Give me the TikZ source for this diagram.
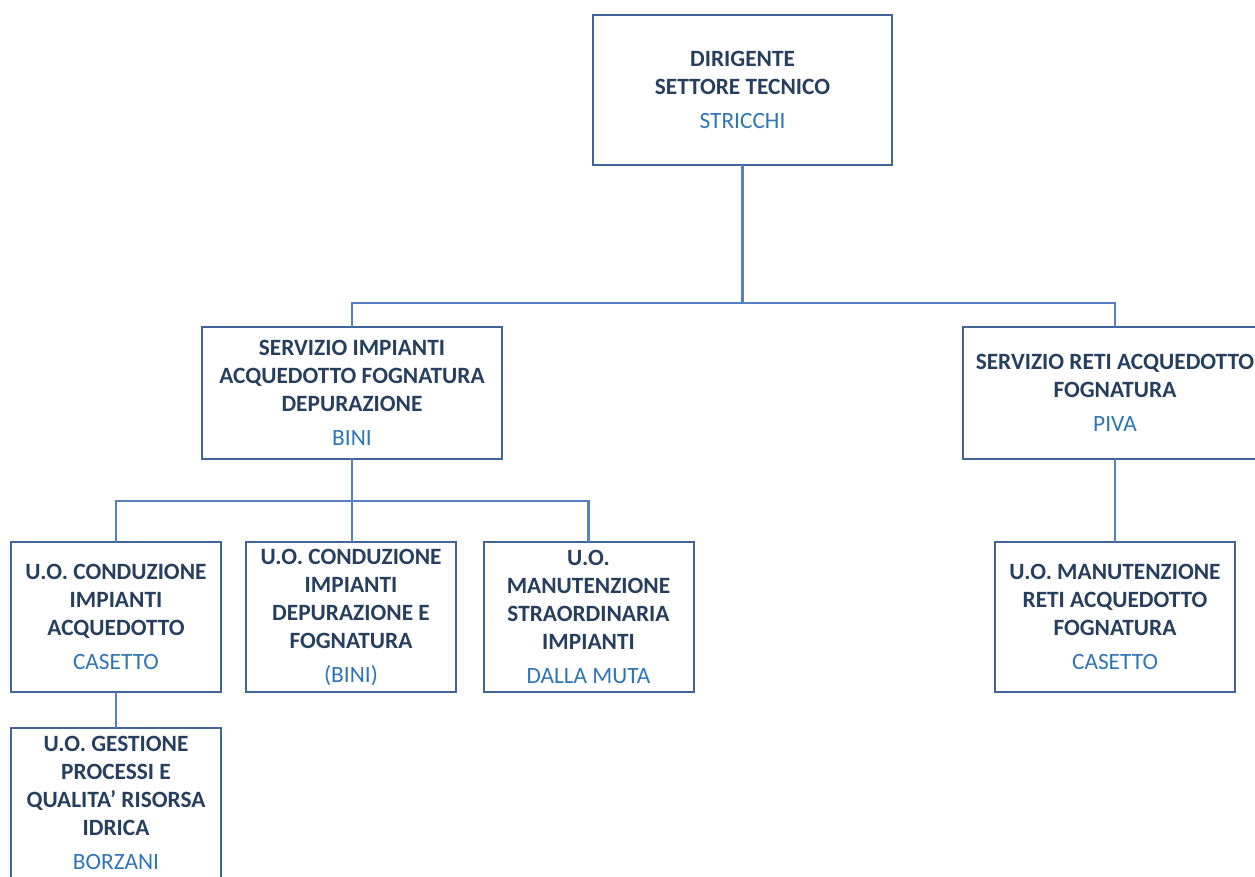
\documentclass[tikz,border=0pt]{standalone}
\usepackage{fontspec}
\setmainfont{Carlito}
\usetikzlibrary{positioning}

\definecolor{boxline}{HTML}{41649A}
\definecolor{connline}{HTML}{5580C4}
\definecolor{headtext}{HTML}{263F5E}
\definecolor{namecol}{HTML}{2E75B6}
\newcommand\nm[1]{\textcolor{namecol}{\mdseries #1}}

\begin{document}
\begin{tikzpicture}[
		x=0.75pt, y=-0.75pt,
		every node/.style = {
			draw=boxline, rectangle, line width=1.5pt,
			align=center, text=headtext,
			font=\fontsize{17.5pt}{21pt}\selectfont\bfseries,
			outer sep=0cm, inner sep=0cm
		},
		unit/.style = {minimum width=157.5pt, minimum height=112.5pt},
		conn/.style = {draw=connline, line width=1.7pt}
		]
		\useasboundingbox (0,0) rectangle (1255,876);
		\pgfmathsetmacro\gap{4.5}
		% top level
		\node[minimum width=224.25pt, minimum height=112.5pt] (dir) at (742.5,90)
			{DIRIGENTE\\SETTORE TECNICO\\[\gap pt]\nm{STRICCHI}};
		% services
		\node[minimum width=225pt, minimum height=99pt] (servimp) at (352,393)
			{SERVIZIO IMPIANTI\\ACQUEDOTTO FOGNATURA\\DEPURAZIONE\\[\gap pt]\nm{BINI}};
		\node[minimum width=228pt, minimum height=99pt] (servreti) at (1115,393)
			{SERVIZIO RETI ACQUEDOTTO\\FOGNATURA\\[\gap pt]\nm{PIVA}};
		% units
		\node[unit] (uoacq) at (116,617)
			{U.O. CONDUZIONE\\IMPIANTI\\ACQUEDOTTO\\[\gap pt]\nm{CASETTO}};
		\node[unit] (uodep) at (351,617)
			{U.O. CONDUZIONE\\IMPIANTI\\DEPURAZIONE E\\FOGNATURA\\[\gap pt]\nm{(BINI)}};
		\node[unit] (uoman) at (588.5,617)
			{U.O.\\MANUTENZIONE\\STRAORDINARIA\\IMPIANTI\\[\gap pt]\nm{DALLA MUTA}};
		\node[unit, minimum width=180pt] (uoreti) at (1115,617)
			{U.O. MANUTENZIONE\\RETI ACQUEDOTTO\\FOGNATURA\\[\gap pt]\nm{CASETTO}};
		\node[unit] (uoqual) at (116,803)
			{U.O. GESTIONE\\PROCESSI E\\QUALITA’ RISORSA\\IDRICA\\[\gap pt]\nm{BORZANI}};
		
		\coordinate (bus1) at (742.5,303);
		\coordinate (bus2) at (352,501);
		
		\draw[conn] (dir.south) -- (bus1);
		\draw[conn] (servimp.north) |- (bus1) -| (servreti.north);
		\draw[conn] (servimp.south) -- (bus2);
		\draw[conn] (uoacq.north) |- (bus2) -| (uoman.north);
		\draw[conn] (bus2) -- (bus2 |- uodep.north);
		\draw[conn] (servreti.south) -- (uoreti.north);
		\draw[conn] (uoacq.south) -- (uoqual.north);
	\end{tikzpicture}
\end{document}
